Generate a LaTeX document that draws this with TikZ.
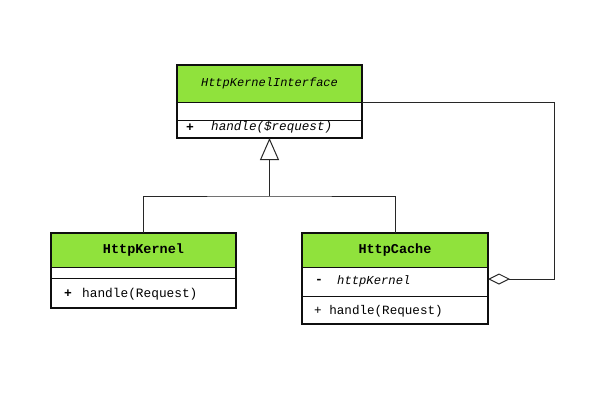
\documentclass[tikz,border=0pt]{standalone}
\usepackage{fontspec}
\setmonofont{Liberation Mono}
\usetikzlibrary{arrows.meta}
\definecolor{umlgreen}{RGB}{144,226,60}
\definecolor{ink}{RGB}{15,15,15}
\begin{document}
\begin{tikzpicture}[x=1pt,y=-1pt,
  box/.style={draw=ink, line width=1pt, anchor=north west, inner sep=0pt, outer sep=0pt, font=\ttfamily},
  hdr/.style={box, fill=umlgreen},
  comp/.style={box, fill=white, align=left, inner xsep=0pt},
  outer/.style={draw=ink, line width=2.8pt},
  conn/.style={draw=ink!90, line width=1pt}
]
\useasboundingbox (0,0) rectangle (600,400);
\fill[white] (0,0) rectangle (600,400);

% HttpKernelInterface
\node[hdr, minimum width=185pt, minimum height=37pt, font=\ttfamily\itshape\fontsize{12}{14}\selectfont] (ihead) at (177,65) {HttpKernelInterface};
\node[comp, minimum width=185pt, minimum height=18pt] (iattr) at (177,102) {};
\node[comp, minimum width=185pt, minimum height=18pt] (imeth) at (177,120) {};
\node[font=\ttfamily\bfseries\fontsize{13}{15}\selectfont, anchor=west, inner sep=0pt] (iplus) at (186,127.5) {+};
\node[font=\ttfamily\itshape\fontsize{12.6}{14}\selectfont, anchor=west, inner sep=0pt] (imtext) at (211,127.5) {handle(\$request)};
\draw[outer] (ihead.north west) rectangle (imeth.south east);

% HttpKernel
\node[hdr, minimum width=185pt, minimum height=34pt, font=\ttfamily\bfseries\fontsize{13.5}{15}\selectfont] (khead) at (51,233) {HttpKernel};
\node[comp, minimum width=185pt, minimum height=11pt] (kattr) at (51,267) {};
\node[comp, minimum width=185pt, minimum height=30pt] (kmeth) at (51,278) {};
\node[font=\ttfamily\bfseries\fontsize{13}{15}\selectfont, anchor=west, inner sep=0pt] (kplus) at (64,294) {+};
\node[font=\ttfamily\fontsize{12.8}{14}\selectfont, anchor=west, inner sep=0pt] (kmtext) at (82,294) {handle(Request)};
\draw[outer] (khead.north west) rectangle (kmeth.south east);

% HttpCache
\node[hdr, minimum width=186pt, minimum height=34pt, font=\ttfamily\bfseries\fontsize{13.5}{15}\selectfont] (chead) at (302,233) {HttpCache};
\node[comp, minimum width=186pt, minimum height=29pt] (cattr) at (302,267) {};
\node[comp, minimum width=186pt, minimum height=28pt] (cmeth) at (302,296) {};
\node[font=\ttfamily\bfseries\fontsize{13}{15}\selectfont, anchor=west, inner sep=0pt] (cminus) at (315,281) {-};
\node[font=\ttfamily\itshape\fontsize{12.2}{14}\selectfont, anchor=west, inner sep=0pt] (catext) at (337,281) {httpKernel};
\node[font=\ttfamily\fontsize{12.6}{14}\selectfont, anchor=west, inner sep=0pt] (cmtext) at (314,311) {+ handle(Request)};
\draw[outer] (chead.north west) rectangle (cmeth.south east);

% generalization
\coordinate (j) at (269.5,196);
\draw[conn] (khead.north) |- (j) -| (chead.north);
\draw[conn, -{Triangle[open, length=22pt, width=19pt, line width=1pt]}] (j) -- (imeth.south);

% aggregation
\coordinate (agg) at (554,279);
\draw[conn, {Diamond[open, length=22pt, width=11pt, line width=1pt]}-] (cattr.east |- agg) -- (agg) |- (ihead.south east);
\end{tikzpicture}
\end{document}
